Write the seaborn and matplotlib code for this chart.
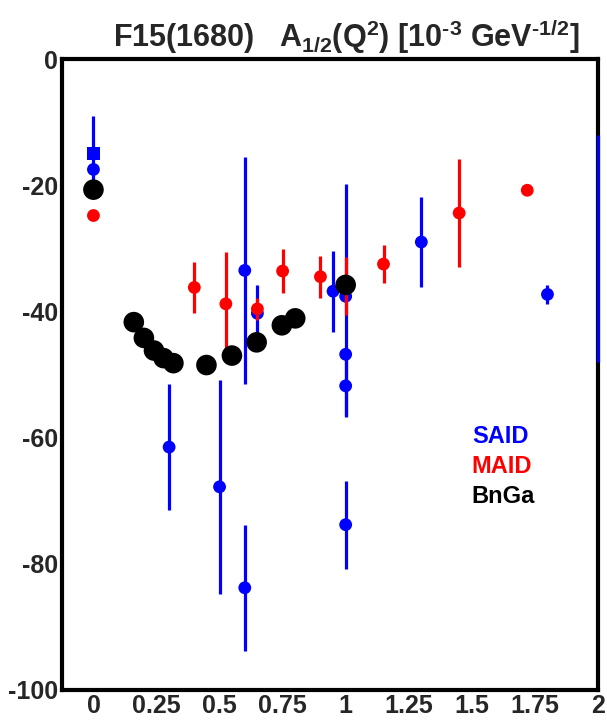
import matplotlib
matplotlib.use("Agg")
import matplotlib.pyplot as plt
import seaborn as sns
import numpy as np

# ---- data ----
said_x   = [0.0, 0.30, 0.50, 0.60, 0.60, 0.65, 0.95, 1.0, 1.0, 1.0, 1.0, 1.30, 1.80]
said_y   = [-17.5, -61.5, -67.8, -33.5, -83.8, -40.3, -36.8, -37.6, -46.8, -51.8, -73.8, -29.0, -37.3]
said_err = [0.0, 10.0, 17.0, 18.0, 10.0, 4.5, 6.4, 0.0, 0.0, 5.0, 7.0, 7.2, 1.5]
said_sq_x, said_sq_y, said_sq_err = [0.0], [-15.0], [6.0]
said_bar_x, said_bar_lo, said_bar_hi = [1.0], [-56.6], [-19.8]
said_edge_x, said_edge_lo, said_edge_hi = [2.0], [-48.0], [-12.0]

maid_x   = [0.0, 0.40, 0.525, 0.65, 0.75, 0.90, 1.0, 1.15, 1.45, 1.72]
maid_y   = [-24.8, -36.2, -38.8, -39.6, -33.6, -34.5, -36.0, -32.5, -24.4, -20.8]
maid_err = [0.0, 4.0, 8.2, 1.8, 3.5, 3.3, 4.6, 3.0, 8.6, 0.0]

bnga_x = [0.0, 0.16, 0.20, 0.24, 0.278, 0.317, 0.448, 0.549, 0.647, 0.747, 0.80, 1.0]
bnga_y = [-20.7, -41.7, -44.2, -46.2, -47.4, -48.2, -48.5, -47.0, -44.9, -42.2, -41.1, -35.8]

xticks = [0, 0.25, 0.5, 0.75, 1, 1.25, 1.5, 1.75, 2]
xticklabels = ["0", "0.25", "0.5", "0.75", "1", "1.25", "1.5", "1.75", "2"]
yticks = [0, -20, -40, -60, -80, -100]
yticklabels = ["0", "-20", "-40", "-60", "-80", "-100"]

BLUE, RED, BLACK = "#0000ff", "#ff0000", "#000000"
FAM = "Liberation Sans"

sns.set_theme(style="white")
plt.rcParams["font.family"] = [FAM, "DejaVu Sans"]
plt.rcParams["font.weight"] = "bold"
plt.rcParams["axes.unicode_minus"] = False
plt.rcParams["mathtext.fontset"] = "custom"
plt.rcParams["mathtext.rm"] = FAM + ":bold"
plt.rcParams["mathtext.it"] = FAM + ":bold"
plt.rcParams["mathtext.bf"] = FAM + ":bold"
plt.rcParams["mathtext.default"] = "bf"

fig = plt.figure(figsize=(6.07, 7.2), dpi=100)
ax = fig.add_axes([0.102, 0.0417, 0.883, 0.8763])

lw_err = 2.3
# SAID
ax.errorbar(said_x, said_y, yerr=said_err, fmt="none", ecolor=BLUE, elinewidth=lw_err, capsize=0, zorder=2)
ax.errorbar(said_sq_x, said_sq_y, yerr=said_sq_err, fmt="none", ecolor=BLUE, elinewidth=lw_err, capsize=0, zorder=2)
ax.vlines(said_bar_x, said_bar_lo, said_bar_hi, color=BLUE, lw=lw_err, zorder=2)
ax.vlines(said_edge_x, said_edge_lo, said_edge_hi, color=BLUE, lw=lw_err, zorder=7, clip_on=False)
sns.scatterplot(x=said_x, y=said_y, ax=ax, color=BLUE, s=85, marker="o", edgecolor="none", zorder=3, legend=False)
sns.scatterplot(x=said_sq_x, y=said_sq_y, ax=ax, color=BLUE, s=95, marker="s", edgecolor="none", zorder=3, legend=False)
# MAID
ax.errorbar(maid_x, maid_y, yerr=maid_err, fmt="none", ecolor=RED, elinewidth=lw_err, capsize=0, zorder=4)
sns.scatterplot(x=maid_x, y=maid_y, ax=ax, color=RED, s=85, marker="o", edgecolor="none", zorder=5, legend=False)
# BnGa
sns.scatterplot(x=bnga_x, y=bnga_y, ax=ax, color=BLACK, s=220, marker="o", edgecolor="none", zorder=6, legend=False)

ax.set_xlim(-0.104, 2.0)
ax.set_ylim(-100, 0)
ax.set_xticks(xticks)
ax.set_xticklabels(xticklabels)
ax.set_yticks(yticks)
ax.set_yticklabels(yticklabels)
ax.set_xticks(np.arange(-0.125, 2.0, 0.125), minor=True)
ax.set_yticks(np.arange(-100, 0, 5), minor=True)
ax.tick_params(axis="both", which="both", direction="in", top=False, right=False, color="black")
ax.tick_params(axis="both", which="major", length=9, width=2, labelsize=18)
ax.tick_params(axis="both", which="minor", length=5, width=2)
ax.tick_params(axis="y", pad=3)
ax.tick_params(axis="x", pad=3)
for lab in ax.get_xticklabels() + ax.get_yticklabels():
    lab.set_fontweight("bold")
for sp in ax.spines.values():
    sp.set_color("black")
    sp.set_linewidth(3)
ax.set_xlabel("")
ax.set_ylabel("")

# legend as coloured text
leg_labels = ["SAID", "MAID", "BnGa"]
leg_colors = [BLUE, RED, BLACK]
leg_y = [-59.8, -64.6, -69.4]
for t, c, yy in zip(leg_labels, leg_colors, leg_y):
    ax.text(1.5, yy, t, color=c, fontsize=17, fontweight="bold", ha="left", va="center")

fig.text(346 / 607, 1 - 36 / 720,
         "F15(1680)   A$_{1/2}$(Q$^2$) [10$^{\u2010 3}$ GeV$^{\u2010 1/2}$]",
         ha="center", va="center", fontsize=22, fontweight="bold")

fig.savefig("out.png", dpi=100)
